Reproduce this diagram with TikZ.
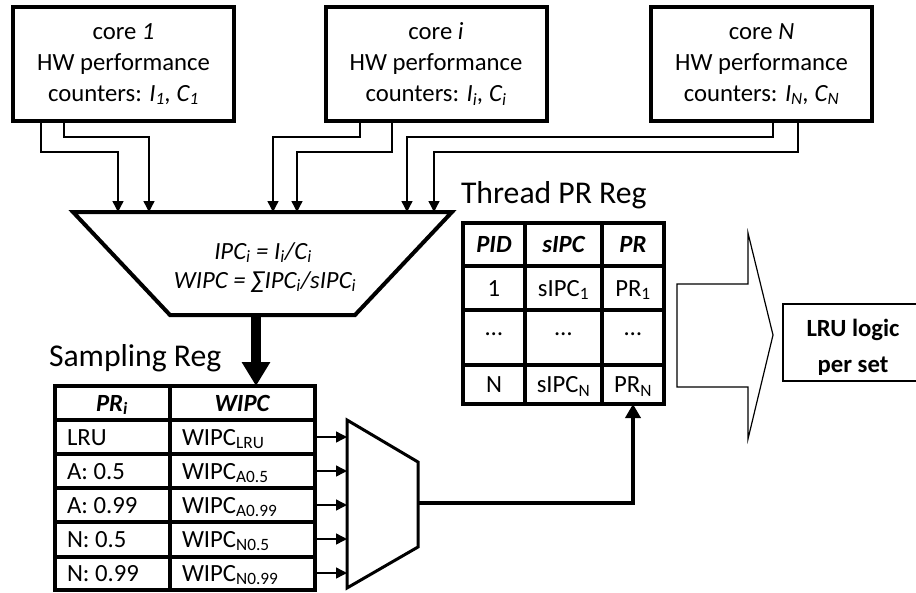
\documentclass[tikz,border=0pt]{standalone}
\usepackage{fontspec}
\setmainfont{Carlito}
\usetikzlibrary{arrows.meta}
\begin{document}
\begin{tikzpicture}[x=1pt,y=-1pt,
  every node/.style={inner sep=0pt, outer sep=0pt},
  txt/.style={font=\fontsize{24.7}{31}\selectfont},
  big/.style={font=\fontsize{31.7}{38}\selectfont},
  corebox/.style={draw, line width=4pt, minimum width=221pt, minimum height=114pt, align=center, txt},
  wire/.style={line width=1.4pt, -{Triangle[width=11pt,length=11pt]}},
  tab/.style={line width=3.5pt},
  tabbox/.style={draw, line width=3.5pt},
  cell/.style={txt, text height=16pt, text depth=0pt, anchor=center},
  lcell/.style={txt, text height=16pt, text depth=0pt, anchor=west},
  hcell/.style={cell, font=\fontsize{24.7}{31}\selectfont\bfseries\itshape},
  lrutxt/.style={anchor=base, font=\fontsize{24.7}{31}\selectfont\bfseries},
  calctxt/.style={anchor=base, text height=16pt, text depth=3pt, font=\fontsize{24.7}{31}\selectfont\itshape},
]
\useasboundingbox (0,0) rectangle (916,592);

% cores
\node[corebox] (c1) at (123.5,64) {core \textit{1}\\HW performance\\counters: \textit{I\textsubscript{1}, C\textsubscript{1}}};
\node[corebox] (ci) at (436,64) {core \textit{i}\\HW performance\\counters: \textit{I\textsubscript{i}, C\textsubscript{i}}};
\node[corebox] (cN) at (761.5,64) {core \textit{N}\\HW performance\\counters: \textit{I\textsubscript{N}, C\textsubscript{N}}};

% trapezoid (IPC calculator)
\coordinate (tl) at (73,212);
\coordinate (tr) at (452,212);
\coordinate (br) at (355,315);
\coordinate (bl) at (170,315);
\draw[line width=4pt, line join=miter] (tl) -- (tr) -- (br) -- (bl) -- cycle;
\node[calctxt] (calc1) at (263,259) {IPC\textsubscript{i} = I\textsubscript{i}/C\textsubscript{i}};
\node[calctxt] (calc2) at (265,288) {WIPC = ∑IPC\textsubscript{i}/sIPC\textsubscript{i}};

\coordinate (a1) at (118,212);
\coordinate (a2) at (149,212);
\coordinate (a3) at (273,212);
\coordinate (a4) at (297,212);
\coordinate (a5) at (407,212);
\coordinate (a6) at (434,212);

\draw[wire] (41,0 |- c1.south) |- (a1 |- 0,152) -- (a1);
\draw[wire] (64,0 |- c1.south) |- (a2 |- 0,137) -- (a2);
\draw[wire] (360,0 |- ci.south) |- (a3 |- 0,137) -- (a3);
\draw[wire] (392,0 |- ci.south) |- (a4 |- 0,152) -- (a4);
\draw[wire] (773,0 |- cN.south) |- (a5 |- 0,137) -- (a5);
\draw[wire] (798,0 |- cN.south) |- (a6 |- 0,152) -- (a6);

% sampling register
\node[big, anchor=west] (srl) at (49,358) {Sampling Reg};
\node[tabbox, minimum width=260pt, minimum height=204pt] (sr) at (185,488) {};
\draw[tab] (170,0 |- sr.north) -- (170,0 |- sr.south);
\foreach \yy in {420,454,488,522,557} \draw[tab] (sr.west |- 0,\yy) -- (sr.east |- 0,\yy);

\coordinate (tb) at (256,315);
\draw[line width=10pt, -{Triangle[width=27pt,length=24pt]}] (tb) -- (tb |- sr.north);

\node[hcell] (shl) at (112,403) {PR\textsubscript{i}};
\node[hcell] (shr) at (242,403) {WIPC};
\node[lcell] (s1l) at (67,437) {LRU};
\node[lcell] (s1r) at (182,437) {WIPC\textsubscript{LRU}};
\node[lcell] (s2l) at (67,471) {A: 0.5};
\node[lcell] (s2r) at (182,471) {WIPC\textsubscript{A0.5}};
\node[lcell] (s3l) at (67,505) {A: 0.99};
\node[lcell] (s3r) at (182,505) {WIPC\textsubscript{A0.99}};
\node[lcell] (s4l) at (67,539) {N: 0.5};
\node[lcell] (s4r) at (182,539) {WIPC\textsubscript{N0.5}};
\node[lcell] (s5l) at (67,573) {N: 0.99};
\node[lcell] (s5r) at (182,573) {WIPC\textsubscript{N0.99}};

% multiplexer
\coordinate (mxl) at (347,504);
\coordinate (mo) at (418,503);
\draw[line width=3pt, line join=miter] (347,420) -- (418,462) -- (418,547) -- (347,588) -- cycle;
\foreach \r in {s1r,s2r,s3r,s4r,s5r}
  \draw[wire] (sr.east |- \r) -- (mxl |- \r);

% thread PR register
\node[big, anchor=west] (ttl) at (461,195) {Thread PR Reg};
\node[tabbox, minimum width=201pt, minimum height=181pt] (tt) at (563.5,313.5) {};
\foreach \xx in {525,602} \draw[tab] (\xx,0 |- tt.north) -- (\xx,0 |- tt.south);
\foreach \yy in {266,310,365} \draw[tab] (tt.west |- 0,\yy) -- (tt.east |- 0,\yy);

\node[hcell] (th1) at (494,244.5) {PID};
\node[hcell] (th2) at (563.5,244.5) {sIPC};
\node[hcell] (th3) at (633,244.5) {PR};
\node[cell] (t11) at (494,288) {1};
\node[cell] (t12) at (563.5,288) {sIPC\textsubscript{1}};
\node[cell] (t13) at (633,288) {PR\textsubscript{1}};
\node[cell] (t21) at (494,327) {…};
\node[cell] (t22) at (563.5,327) {…};
\node[cell] (t23) at (633,327) {…};
\node[cell] (t31) at (494,384.5) {N};
\node[cell] (t32) at (563.5,384.5) {sIPC\textsubscript{N}};
\node[cell] (t33) at (633,384.5) {PR\textsubscript{N}};

\draw[line width=4pt, -{Triangle[width=15pt,length=14pt]}] (mo) -| (t33 |- tt.south);

% big arrow
\draw[line width=1.2pt, line join=miter] (677,284) -- (748,284) -- (748,233) -- (773,335) -- (748,439) -- (748,387) -- (677,387) -- cycle;

% LRU logic box
\node[draw, line width=1.5pt, minimum width=150pt, minimum height=77pt, anchor=north west] (lru) at (783,304) {};
\begin{scope}
\clip (783,304) rectangle (916,374);
\node[lrutxt] (lru1) at (853,336) {LRU logic};
\node[lrutxt] (lru2) at (853,372) {per set};
\end{scope}
\end{tikzpicture}
\end{document}
